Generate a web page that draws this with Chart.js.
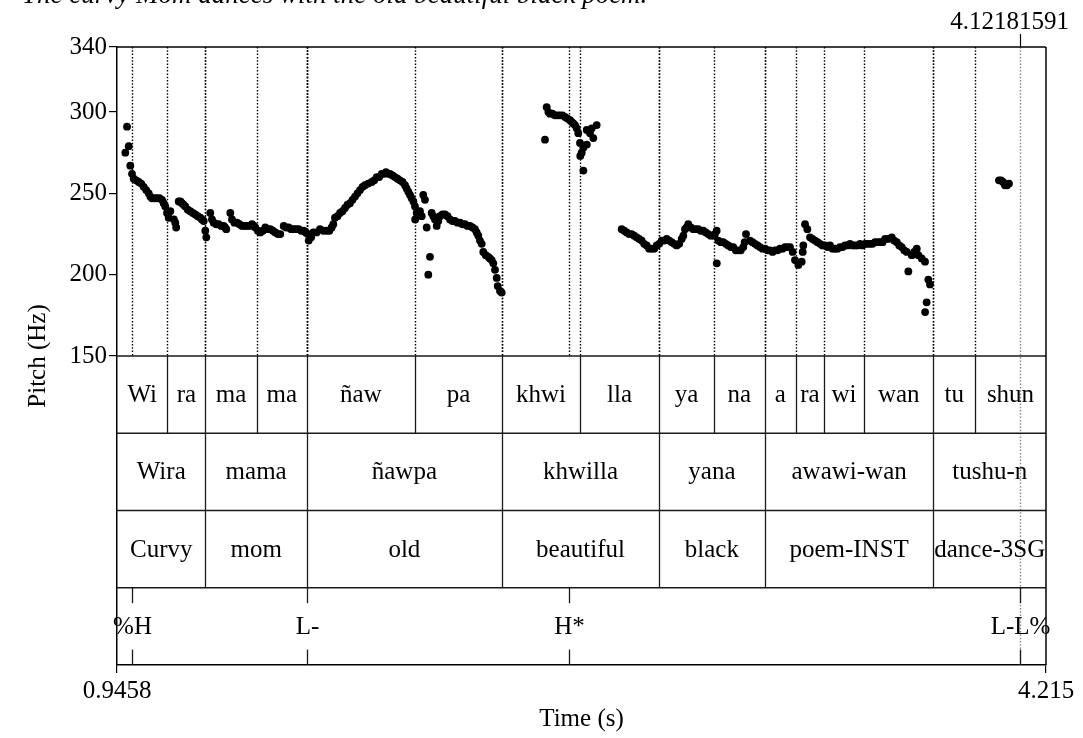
<!DOCTYPE html>
<html>
<head>
<meta charset="utf-8">
<script src="https://cdn.jsdelivr.net/npm/chart.js@4.4.1/dist/chart.umd.min.js"></script>
<style>
  html, body { margin: 0; padding: 0; background: #fff; overflow: hidden; }
  #wrap { position: relative; width: 1083px; height: 738px; overflow: hidden; }
  #sentence { position: absolute; left: 22px; top: -21px; font: italic 27px 'Liberation Serif', 'Times New Roman', serif; white-space: nowrap; color: #000; }
  canvas { position: absolute; left: 0; top: 0; }
</style>
</head>
<body>
<div id="wrap">
  <canvas id="pitchChart" width="1083" height="738"></canvas>
  <div id="sentence">The curvy Mom dances with the old beautiful black poem.</div>
</div>
<script>
// pitch track (time in s, F0 in Hz)
const pitchTimes = [
  0.9750, 0.9810, 0.9870, 0.9926, 0.9986, 1.0046, 1.0222, 1.0398, 1.0574, 1.0690,
  1.0866, 1.1042, 1.1158, 1.1218, 1.1277, 1.1334, 1.1510, 1.1540, 1.1629, 1.1745,
  1.1861, 1.2037, 1.2213, 1.2389, 1.2509, 1.2565, 1.2600, 1.2741, 1.2861, 1.3037,
  1.3213, 1.3304, 1.3445, 1.3505, 1.3681, 1.3857, 1.4033, 1.4209, 1.4325, 1.4501,
  1.4677, 1.4853, 1.5029, 1.5205, 1.5324, 1.5500, 1.5676, 1.5852, 1.6028, 1.6169,
  1.6204, 1.6366, 1.6602, 1.6837, 1.7013, 1.7129, 1.7305, 1.7481, 1.7657, 1.7833,
  1.8009, 1.8185, 1.8421, 1.8597, 1.8773, 1.8924, 1.9065, 1.9241, 1.9417, 1.9593,
  1.9709, 1.9828, 1.9945, 1.9950, 2.0004, 2.0120, 2.0180, 2.0236, 2.0296, 2.0356,
  2.0413, 2.0472, 2.0532, 2.0648, 2.0708, 2.0824, 2.1000, 2.1176, 2.1352, 2.1528,
  2.1704, 2.1880, 2.2056, 2.2172, 2.2292, 2.2348, 2.2524, 2.2644, 2.2700, 2.2760,
  2.2820, 2.2855, 2.2936, 2.2996,
  2.4519, 2.4579, 2.4695, 2.4871, 2.5047, 2.5223, 2.5399, 2.5515, 2.5635, 2.5691,
  2.5751, 2.5760, 2.5811, 2.5867, 2.5870, 2.5987, 2.5990, 2.6103, 2.6163, 2.6219,
  2.6339,
  2.7218, 2.7394, 2.7570, 2.7746, 2.7922, 2.8098, 2.8274, 2.8450, 2.8626, 2.8802,
  2.8978, 2.9154, 2.9330, 2.9446, 2.9562, 2.9738, 2.9914, 3.0090, 3.0266, 3.0442,
  3.0561, 3.0565, 3.0618, 3.0794, 3.0970, 3.1146, 3.1322, 3.1498, 3.1593, 3.1734,
  3.1910, 3.2086, 3.2262, 3.2438, 3.2614, 3.2790, 3.2966, 3.3142, 3.3236, 3.3317,
  3.3434, 3.3553, 3.3589, 3.3610, 3.3670, 3.3751, 3.3846, 3.4022, 3.4198, 3.4374,
  3.4550, 3.4726, 3.4902, 3.5078, 3.5254, 3.5430, 3.5606, 3.5782, 3.5958, 3.6134,
  3.6310, 3.6486, 3.6722, 3.6898, 3.7074, 3.7250, 3.7306, 3.7426, 3.7602, 3.7658,
  3.7777, 3.7892, 3.7895, 3.7950, 3.8009, 3.8068,
  4.0495, 4.0566, 4.0636, 4.0706, 4.0777, 4.0847,
  // further frames read between the ones above
  1.0134, 1.0310, 1.0486, 1.0630, 1.0780, 1.0954, 1.1100, 1.1460, 1.1690, 1.1800,
  1.1950, 1.2125, 1.2300, 1.2450, 1.2800, 1.2950, 1.3125, 1.3260, 1.3590, 1.3770,
  1.3945, 1.4120, 1.4270, 1.4413, 1.4590, 1.4765, 1.4940, 1.5117, 1.5410, 1.5590,
  1.5764, 1.5940, 1.6100, 1.6290, 1.6480, 1.6720, 1.6930, 1.7070, 1.7217, 1.7393,
  1.7570, 1.7745, 1.7920, 1.8100, 1.8300, 1.8510, 1.8685, 1.8850, 1.8995, 1.9153,
  1.9330, 1.9505, 1.9650, 1.9770, 1.9890, 2.0590, 2.0766, 2.0910, 2.1090, 2.1264,
  2.1440, 2.1616, 2.1792, 2.1968, 2.2115, 2.2230, 2.2436, 2.2580,
  2.4640, 2.4780, 2.4960, 2.5135, 2.5311, 2.5457, 2.5575,
  2.7306, 2.7482, 2.7658, 2.7834, 2.8010, 2.8186, 2.8362, 2.8538, 2.8714, 2.8890,
  2.9066, 2.9242, 2.9388, 2.9504, 2.9650, 2.9826, 3.0002, 3.0178, 3.0354, 3.0500,
  3.0706, 3.0882, 3.1058, 3.1234, 3.1410, 3.1546, 3.1822, 3.1998, 3.2174, 3.2350,
  3.2526, 3.2702, 3.2878, 3.3054, 3.3930, 3.4110, 3.4286, 3.4462, 3.4638, 3.4814,
  3.4990, 3.5166, 3.5342, 3.5518, 3.5694, 3.5870, 3.6046, 3.6222, 3.6398, 3.6604,
  3.6810, 3.6986, 3.7162, 3.7514
];
const pitchHz = [
  275, 291, 279, 267, 262, 259, 257, 254, 250, 247,
  247, 246, 242, 238, 235, 239, 232, 229, 245, 244,
  242, 239, 237, 235, 233, 227, 223, 238, 232, 231,
  230, 228, 238, 234, 232, 230, 230, 231, 229, 226,
  229, 228, 226, 225, 230, 229, 228, 228, 227, 225,
  221, 226, 228, 227, 229, 235, 238, 241, 244, 248,
  252, 255, 257, 260, 262, 263, 262, 260, 258, 255,
  251, 247, 242, 234, 238, 239, 236, 249, 246, 229,
  200, 211, 238, 234, 230, 236, 237, 234, 233, 232,
  231, 230, 228, 224, 219, 214, 211, 209, 207, 203,
  198, 193, 190, 189,
  283, 303, 299, 298, 298, 297, 295, 293, 290, 287,
  281, 273, 275, 278, 264, 289, 280, 287, 290, 284,
  292,
  228, 226, 225, 223, 221, 218, 216, 218, 221, 222,
  220, 218, 222, 228, 231, 228, 228, 227, 225, 224,
  227, 207, 221, 220, 218, 217, 215, 217, 225, 221,
  219, 217, 216, 215, 215, 216, 217, 217, 214, 209,
  206, 208, 214, 218, 231, 228, 223, 221, 219, 218,
  218, 216, 217, 218, 219, 218, 219, 219, 219, 220,
  220, 222, 223, 220, 217, 214, 202, 212, 216, 212,
  210, 208, 177, 183, 197, 194,
  258, 258, 257, 255, 255, 256,
  // further frames
  258, 256, 252, 248, 247, 247, 244, 234, 245, 243,
  240, 238, 236, 234, 234, 231, 230, 229, 232, 231,
  230, 230, 230, 227, 227, 228, 227, 225, 229, 228,
  228, 227, 226, 223, 226, 227, 227, 231, 236, 239,
  243, 246, 250, 254, 256, 258, 260, 262, 262, 261,
  259, 257, 253, 249, 245, 236, 233, 237, 236, 233,
  232, 231, 230, 229, 226, 221, 212, 210,
  300, 299, 298, 298, 296, 294, 292,
  227, 225, 224, 222, 219, 216, 216, 219, 221, 221,
  219, 219, 224, 229, 229, 228, 227, 226, 224, 225,
  220, 219, 217, 215, 215, 220, 220, 218, 216, 215,
  214, 215, 216, 217, 222, 220, 218, 217, 216, 216,
  217, 218, 218, 218, 218, 219, 219, 220, 220, 222,
  221, 218, 215, 214
];

const timeMin = 0.9458;
const timeMax = 4.215;
const pitchFloor = 150;
const pitchCeiling = 340;
const pitchTicks = [150, 200, 250, 300, 340];
const timeTicks = [0.9458, 4.215];
const cursorTime = 4.12181591;

// tier 1: syllables
const sylEdges = [0.9458, 1.1228, 1.2572, 1.4374, 1.6137, 1.9945, 2.3006, 2.5751, 2.8531,
  3.0467, 3.2254, 3.3345, 3.4337, 3.5745, 3.8190, 3.9651, 4.215];
const sylLabels = ['Wi', 'ra', 'ma', 'ma', 'ñaw', 'pa', 'khwi', 'lla', 'ya', 'na', 'a', 'ra', 'wi', 'wan', 'tu', 'shun'];
// tiers 2 and 3: words and glosses
const wordEdges = [0.9458, 1.2572, 1.6137, 2.3006, 2.8531, 3.2254, 3.8190, 4.215];
const wordLabels = ['Wira', 'mama', 'ñawpa', 'khwilla', 'yana', 'awawi-wan', 'tushu-n'];
const glossLabels = ['Curvy', 'mom', 'old', 'beautiful', 'black', 'poem-INST', 'dance-3SG'];
// tier 4: tones (points)
const toneTimes = [0.9986, 1.6137, 2.5364, 4.12181591];
const toneLabels = ['%H', 'L-', 'H*', 'L-L%'];

const FONT = "'Liberation Serif', 'Times New Roman', serif";
Chart.defaults.font.family = FONT;
Chart.defaults.font.size = 25;
Chart.defaults.color = '#000';

function vline(ctx, x, y0, y1) {
  ctx.beginPath();
  ctx.moveTo(x, y0);
  ctx.lineTo(x, y1);
  ctx.stroke();
}
function hline(ctx, x0, x1, y) {
  ctx.beginPath();
  ctx.moveTo(x0, y);
  ctx.lineTo(x1, y);
  ctx.stroke();
}

const textGrid = {
  id: 'textGrid',
  beforeDatasetsDraw(chart) {
    const { ctx, chartArea: a, scales: { x, y } } = chart;
    const floorPx = y.getPixelForValue(pitchFloor);
    ctx.save();
    ctx.lineWidth = 1.4;
    ctx.setLineDash([1.5, 1.8]);
    ctx.strokeStyle = '#000';
    const marks = [...sylEdges.slice(1, -1), ...wordEdges.slice(1, -1), ...toneTimes.slice(0, -1)];
    marks.forEach(t => {
      const px = Math.round(x.getPixelForValue(t)) + 0.5;
      vline(ctx, px, a.top, floorPx);
    });
    // cursor line
    ctx.strokeStyle = '#888';
    const cx = Math.round(x.getPixelForValue(cursorTime)) + 0.5;
    vline(ctx, cx, a.top, a.bottom);
    ctx.restore();
  },
  afterDraw(chart) {
    const { ctx, chartArea: a, scales: { x, y } } = chart;
    const floorPx = y.getPixelForValue(pitchFloor);
    const tierH = (a.bottom - floorPx) / 4;
    ctx.save();
    ctx.strokeStyle = '#1a1a1a';
    ctx.lineWidth = 1.3;
    ctx.fillStyle = '#000';
    ctx.font = '25px ' + FONT;
    ctx.textAlign = 'center';
    ctx.textBaseline = 'middle';

    const intervalTiers = [
      { edges: sylEdges, labels: sylLabels },
      { edges: wordEdges, labels: wordLabels },
      { edges: wordEdges, labels: glossLabels }
    ];
    intervalTiers.forEach((tier, i) => {
      const top = floorPx + i * tierH;
      const bot = top + tierH;
      hline(ctx, a.left, a.right, top);
      tier.edges.slice(1, -1).forEach(t => {
        vline(ctx, Math.round(x.getPixelForValue(t)) + 0.5, top, bot);
      });
      tier.labels.forEach((lab, k) => {
        const mid = (x.getPixelForValue(tier.edges[k]) + x.getPixelForValue(tier.edges[k + 1])) / 2;
        ctx.fillText(lab, mid, top + tierH / 2 + 1);
      });
    });

    // point tier
    const ptop = floorPx + 3 * tierH;
    hline(ctx, a.left, a.right, ptop);
    toneTimes.forEach((t, k) => {
      const px = Math.round(x.getPixelForValue(t)) + 0.5;
      vline(ctx, px, ptop, ptop + tierH * 0.2);
      vline(ctx, px, a.bottom - tierH * 0.2, a.bottom);
      ctx.fillText(toneLabels[k], px, ptop + tierH / 2 + 1);
    });

    // outer frame
    ctx.strokeStyle = '#000';
    ctx.lineWidth = 1.5;
    hline(ctx, a.left, a.right, a.top);
    vline(ctx, a.right, a.top, a.bottom);

    // cursor tick + label
    const cx = Math.round(x.getPixelForValue(cursorTime)) + 0.5;
    ctx.lineWidth = 1.2;
    vline(ctx, cx, a.top - 13, a.top);
    ctx.textAlign = 'right';
    ctx.textBaseline = 'alphabetic';
    ctx.fillText(String(cursorTime), chart.width - 14, 29);
    ctx.restore();
  }
};

const points = pitchTimes.map((t, i) => ({ x: t, y: pitchHz[i] }));

new Chart(document.getElementById('pitchChart'), {
  type: 'scatter',
  data: {
    datasets: [{
      data: points,
      backgroundColor: '#000',
      borderWidth: 0,
      pointRadius: 3.9,
      pointHoverRadius: 3.9
    }]
  },
  options: {
    responsive: false,
    animation: false,
    events: [],
    layout: { padding: { top: 47, right: 37, bottom: 0, left: 19 } },
    plugins: { legend: { display: false }, tooltip: { enabled: false } },
    scales: {
      x: {
        type: 'linear',
        min: timeMin,
        max: timeMax,
        afterBuildTicks: s => { s.ticks = timeTicks.map(v => ({ value: v })); },
        afterFit: s => { s.height = 73; },
        ticks: { callback: v => String(v), padding: 3, autoSkip: false, maxRotation: 0 },
        grid: { drawOnChartArea: false, tickLength: 8, color: '#000', lineWidth: 1.2 },
        border: { display: true, color: '#000', width: 1.5 },
        title: { display: true, text: 'Time (s)', padding: { top: 2, bottom: 4 } }
      },
      y: {
        type: 'linear',
        min: pitchFloor - (pitchCeiling - pitchFloor),
        max: pitchCeiling,
        afterBuildTicks: s => { s.ticks = pitchTicks.map(v => ({ value: v })); },
        afterFit: s => { s.width = 98; },
        ticks: { callback: v => String(v), padding: 2, autoSkip: false },
        grid: { drawOnChartArea: false, tickLength: 8, color: '#000', lineWidth: 1.2 },
        border: { display: true, color: '#000', width: 1.5 },
        title: { display: true, text: 'Pitch (Hz)', padding: { top: 4, bottom: 4 } }
      }
    }
  },
  plugins: [textGrid]
});
</script>
</body>
</html>
